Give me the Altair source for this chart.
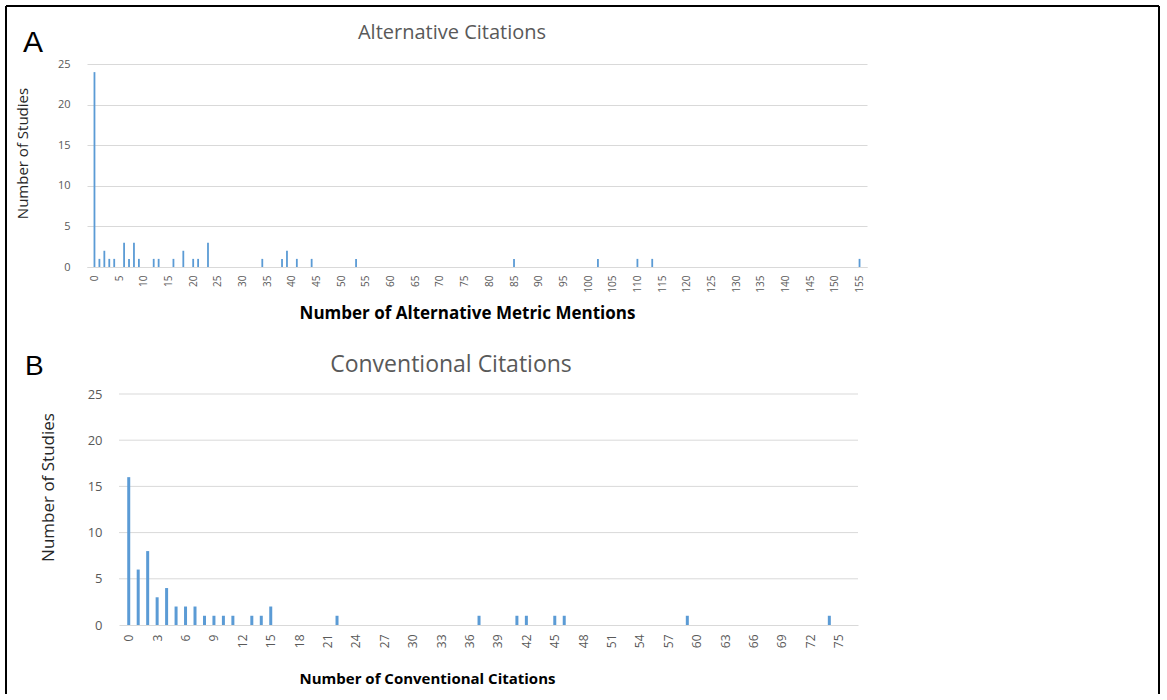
import altair as alt
import pandas as pd

# Panel A: alternative metric mentions per study
alt_mentions = [0, 1, 2, 3, 4, 6, 7, 8, 9, 12, 13, 16, 18, 20, 21, 23, 34, 38, 39, 41, 44, 53, 85, 102, 110, 113, 155]
alt_studies = [24, 1, 2, 1, 1, 3, 1, 3, 1, 1, 1, 1, 2, 1, 1, 3, 1, 1, 2, 1, 1, 1, 1, 1, 1, 1, 1]

# Panel B: conventional citations per study
conv_citations = [0, 1, 2, 3, 4, 5, 6, 7, 8, 9, 10, 11, 13, 14, 15, 22, 37, 41, 42, 45, 46, 59, 74]
conv_studies = [16, 6, 8, 3, 4, 2, 2, 2, 1, 1, 1, 1, 1, 1, 2, 1, 1, 1, 1, 1, 1, 1, 1]

alt_ticks = list(range(0, 156, 5))
conv_ticks = list(range(0, 76, 3))
y_ticks = [0, 5, 10, 15, 20, 25]

FONT = "Open Sans"
BAR = "#5b9bd5"
GRID = "#d9d9d9"
LABEL = "#595959"

one = pd.DataFrame({"k": [0]})

# ---------------- Panel A ----------------
a_df = pd.DataFrame({"mentions": alt_mentions, "studies": alt_studies})

a_x = alt.X(
    "mentions:Q",
    scale=alt.Scale(domain=[-0.5, 155.5], nice=False, zero=False),
    axis=alt.Axis(
        values=alt_ticks, labelAngle=270, labelFontSize=10, labelColor=LABEL,
        labelFont=FONT, labelPadding=8, ticks=False, grid=False,
        domainColor=GRID, labelFlush=False, labelOverlap=False, labelBound=False,
        title="Number of Alternative Metric Mentions", titleFont=FONT,
        titleFontSize=17, titleFontWeight="bold", titleColor="#000000",
        titleX=380, titleY=46, titleAlign="center", titleBaseline="middle",
    ),
)
a_y = alt.Y(
    "studies:Q",
    scale=alt.Scale(domain=[0, 25], nice=False),
    axis=alt.Axis(
        values=y_ticks, grid=True, gridColor=GRID, domain=False, ticks=False,
        labelPadding=17, labelFontSize=11, labelColor=LABEL, labelFont=FONT,
        title="Number of Studies", titleFont=FONT, titleFontSize=15,
        titleFontWeight="normal", titleColor="#262626", titleAngle=270,
        titleX=-65, titleY=89, titleAlign="center", titleBaseline="middle",
    ),
)

a_bars = alt.Chart(a_df).mark_bar(size=1.8, color=BAR).encode(x=a_x, y=a_y)

a_title = alt.Chart(pd.DataFrame({"t": ["Alternative Citations"]})).mark_text(
    font=FONT, fontSize=20, color=LABEL, align="center", baseline="alphabetic"
).encode(text="t:N", x=alt.value(365), y=alt.value(-25))

a_letter = alt.Chart(pd.DataFrame({"t": ["A"]})).mark_text(
    font="Liberation Sans", fontSize=30, color="#000000", align="left", baseline="alphabetic"
).encode(text="t:N", x=alt.value(-64), y=alt.value(-12))

# outer frame
frame_left = alt.Chart(one).mark_rule(color="#000000", strokeWidth=2).encode(
    x=alt.value(-81), y=alt.value(-58), y2=alt.value(630))
frame_top = alt.Chart(one).mark_rule(color="#000000", strokeWidth=2).encode(
    x=alt.value(-81), x2=alt.value(1072), y=alt.value(-58))
frame_right = alt.Chart(one).mark_rule(color="#000000", strokeWidth=2).encode(
    x=alt.value(1072), y=alt.value(-58), y2=alt.value(630))

panel_a = alt.layer(
    a_bars, a_title, a_letter, frame_left, frame_top, frame_right
).properties(width=780, height=203)

# ---------------- Panel B ----------------
b_df = pd.DataFrame({"citations": conv_citations, "studies": conv_studies})

b_y = alt.Y(
    "studies:Q",
    scale=alt.Scale(domain=[0, 25], nice=False),
    axis=alt.Axis(
        values=y_ticks, grid=False, domain=False, ticks=False, offset=-32,
        labelPadding=17, labelFontSize=13, labelColor=LABEL, labelFont=FONT,
        title="Number of Studies", titleFont=FONT, titleFontSize=17,
        titleFontWeight="normal", titleColor="#262626", titleAngle=270,
        titleX=-71, titleY=93, titleAlign="center", titleBaseline="middle",
    ),
)
b_x = alt.X(
    "citations:Q",
    scale=alt.Scale(domain=[-0.5, 76.5], range=[32, 771], nice=False, zero=False),
    axis=alt.Axis(
        values=conv_ticks, labelAngle=270, labelFontSize=12, labelColor=LABEL,
        labelFont=FONT, labelPadding=9, ticks=False, grid=False,
        domainColor=GRID, labelFlush=False, labelOverlap=False, labelBound=False,
        title="Number of Conventional Citations", titleFont=FONT,
        titleFontSize=15, titleFontWeight="bold", titleColor="#000000",
        titleX=340, titleY=53, titleAlign="center", titleBaseline="middle",
    ),
)

b_grid = alt.Chart(pd.DataFrame({"studies": y_ticks[1:]})).mark_rule(
    color=GRID, strokeWidth=1
).encode(y=b_y, x=alt.value(32), x2=alt.value(771))

b_bars = alt.Chart(b_df).mark_bar(size=3, color=BAR).encode(x=b_x, y=b_y)

b_title = alt.Chart(pd.DataFrame({"t": ["Conventional Citations"]})).mark_text(
    font=FONT, fontSize=23, color=LABEL, align="center", baseline="alphabetic"
).encode(text="t:N", x=alt.value(364), y=alt.value(-22))

b_letter = alt.Chart(pd.DataFrame({"t": ["B"]})).mark_text(
    font="Liberation Sans", fontSize=28, color="#000000", align="left", baseline="alphabetic"
).encode(text="t:N", x=alt.value(-62), y=alt.value(-19))

panel_b = alt.layer(b_grid, b_bars, b_title, b_letter).properties(width=771, height=231)

chart = alt.vconcat(panel_a, panel_b, spacing=127, bounds="flush").properties(
    padding={"left": 5, "top": 5, "right": 5, "bottom": 0},
    background="white",
).configure_view(stroke=None)

chart.save("out.html", embed_options={"renderer": "svg", "actions": False})
